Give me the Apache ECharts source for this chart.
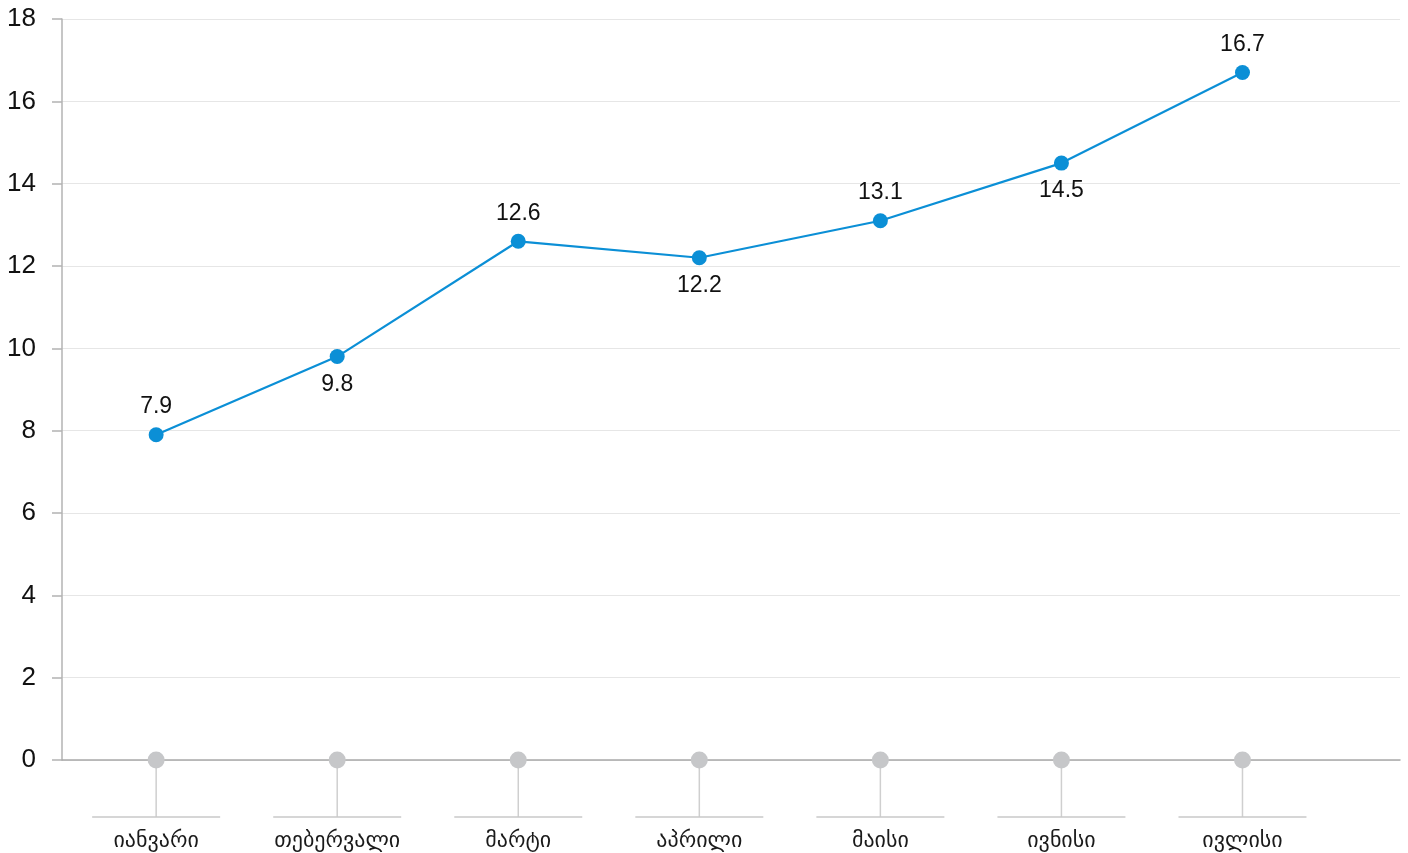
<!DOCTYPE html>
<html>
<head>
<meta charset="utf-8">
<script src="https://cdn.jsdelivr.net/npm/echarts@6/dist/echarts.min.js"></script>
<style>
html,body{margin:0;padding:0;background:#fff;}
#chart{width:1408px;height:853px;}
</style>
</head>
<body>
<div id="chart"></div>
<script>
var categories = ['იანვარი','თებერვალი','მარტი','აპრილი','მაისი','ივნისი','ივლისი'];
var values = [7.9, 9.8, 12.6, 12.2, 13.1, 14.5, 16.7];
var yTicks = [0, 2, 4, 6, 8, 10, 12, 14, 16, 18];

var chart = echarts.init(document.getElementById('chart'));
var option = {
  animation: false,
  backgroundColor: '#ffffff',
  grid: { left: 62, right: 8, top: 19, bottom: 93, containLabel: false },
  xAxis: {
    type: 'value',
    min: -0.52,
    max: 6.87,
    axisLine: { show: true, onZero: false, lineStyle: { color: '#a9a9a9', width: 1.5 } },
    axisTick: { show: false },
    axisLabel: { show: false },
    splitLine: { show: false }
  },
  yAxis: {
    type: 'value',
    min: yTicks[0],
    max: yTicks[yTicks.length - 1],
    interval: yTicks[1] - yTicks[0],
    axisLine: { show: true, onZero: false, lineStyle: { color: '#b3b3b3', width: 1.5 } },
    axisTick: { show: true, length: 10, lineStyle: { color: '#b3b3b3', width: 1.5 } },
    axisLabel: { margin: 26, fontSize: 26, color: '#111', fontFamily: "'Liberation Sans', Arial, sans-serif" },
    splitLine: { show: true, lineStyle: { color: '#e6e6e6', width: 1.2 } }
  },
  series: [
    {
      type: 'custom',
      clip: false,
      silent: true,
      z: 3,
      data: categories.map(function (c, i) { return [i, 0]; }),
      renderItem: function (params, api) {
        var p = api.coord([api.value(0), api.value(1)]);
        var name = categories[params.dataIndex];
        return {
          type: 'group',
          children: [
            { type: 'line', shape: { x1: p[0], y1: p[1], x2: p[0], y2: p[1] + 57 },
              style: { stroke: '#cfcfcf', lineWidth: 1.5 } },
            { type: 'line', shape: { x1: p[0] - 64, y1: p[1] + 57, x2: p[0] + 64, y2: p[1] + 57 },
              style: { stroke: '#c9c9c9', lineWidth: 1.5 } },
            { type: 'circle', shape: { cx: p[0], cy: p[1], r: 8.5 },
              style: { fill: '#c6c7c9' } },
            { type: 'text', x: p[0], y: p[1] + 81,
              style: { text: name, fill: '#1a1a1a', font: "22px 'DejaVu Sans', sans-serif",
                       align: 'center', verticalAlign: 'middle' } }
          ]
        };
      }
    },
    {
      type: 'line',
      z: 5,
      data: values.map(function (v, i) {
        return {
          value: [i, v],
          label: { position: i % 2 === 0 ? 'top' : 'bottom' }
        };
      }),
      symbol: 'circle',
      symbolSize: 15,
      lineStyle: { color: '#0b8fd6', width: 2.2 },
      itemStyle: { color: '#0b8fd6' },
      label: {
        show: true,
        distance: 9,
        fontSize: 23,
        color: '#111',
        fontFamily: "'Liberation Sans', Arial, sans-serif",
        formatter: function (p) { return p.value[1]; }
      }
    }
  ]
};
chart.setOption(option);
</script>
</body>
</html>
